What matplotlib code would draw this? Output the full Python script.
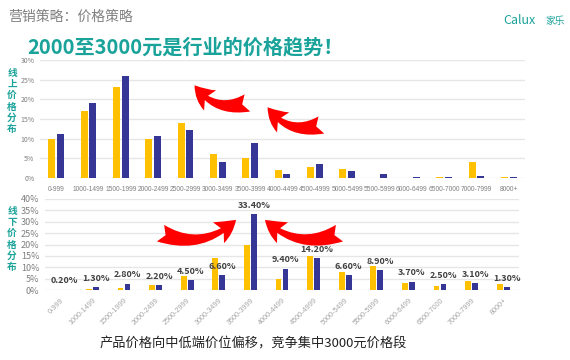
import numpy as np
import matplotlib
matplotlib.use("Agg")
import matplotlib.pyplot as plt
from matplotlib.patches import FancyArrowPatch

plt.rcParams['font.family'] = ['Noto Sans CJK SC', 'DejaVu Sans']

# price bands
bands = ['0-999', '1000-1499', '1500-1999', '2000-2499', '2500-2999', '3000-3499',
         '3500-3999', '4000-4499', '4500-4999', '5000-5499', '5500-5999', '6000-6499',
         '6500-7000', '7000-7999', '8000+']

# online share (%)
online_a = [10.0, 17.1, 23.1, 9.9, 14.0, 6.1, 5.0, 2.0, 2.7, 2.3, 0.0, 0.0, 0.2, 4.1, 0.2]
online_b = [11.2, 19.1, 26.0, 10.7, 12.1, 4.1, 8.8, 1.0, 3.6, 1.9, 0.9, 0.25, 0.3, 0.4, 0.3]

# offline share (%)
offline_a = [0.0, 0.5, 1.0, 2.1, 6.2, 14.1, 20.0, 4.9, 15.1, 7.8, 10.7, 2.9, 1.8, 4.0, 2.8]
offline_b = [0.2, 1.3, 2.8, 2.2, 4.5, 6.6, 33.4, 9.4, 14.2, 6.6, 8.9, 3.7, 2.5, 3.1, 1.3]

YELLOW = '#FFC000'
BLUE = '#363696'
TEAL = '#1AA39A'
GRID = '#e6e6e6'
TICK = '#7f7f7f'

W, H = 570, 360
fig = plt.figure(figsize=(W / 100, H / 100), dpi=100)


def fx(px):
    return px / W


def fy(py):
    return 1 - py / H


x = np.arange(len(bands))

# ---- online chart
ax1 = fig.add_axes([fx(40), fy(178), fx(485), 118 / H])
ax1.bar(x - 0.135, online_a, width=0.22, color=YELLOW)
ax1.bar(x + 0.135, online_b, width=0.22, color=BLUE)
ax1.set_xlim(-0.5, len(bands) - 0.5)
ax1.set_ylim(0, 30)
ax1.set_yticks(range(0, 31, 5))
ax1.set_yticklabels([f'{v}%' for v in range(0, 31, 5)])
ax1.set_xticks(x)
ax1.set_xticklabels(bands, family='Liberation Sans')
ax1.tick_params(axis='x', length=0, labelsize=4.8, colors=TICK, pad=6)
ax1.tick_params(axis='y', length=0, labelsize=5, colors=TICK, pad=4)
ax1.yaxis.grid(True, color=GRID, linewidth=1)
ax1.set_axisbelow(True)
for s in ax1.spines.values():
    s.set_visible(False)

# ---- offline chart
ax2 = fig.add_axes([fx(45), fy(290), fx(474), 91 / H])
ax2.bar(x - 0.11, offline_a, width=0.18, color=YELLOW)
ax2.bar(x + 0.11, offline_b, width=0.18, color=BLUE)
ax2.set_xlim(-0.5, len(bands) - 0.5)
ax2.set_ylim(0, 40)
ax2.set_yticks(range(0, 41, 5))
ax2.set_yticklabels([f'{v}%' for v in range(0, 41, 5)])
ax2.set_xticks(x)
ax2.set_xticklabels(bands, rotation=45, ha='right', rotation_mode='anchor', family='Liberation Sans')
ax2.tick_params(axis='both', length=0, colors=TICK)
ax2.tick_params(axis='y', labelsize=6.5, pad=4)
ax2.tick_params(axis='x', labelsize=5.2, colors='#a6a6a6', pad=5)
ax2.yaxis.grid(True, color=GRID, linewidth=1)
ax2.set_axisbelow(True)
for s in ax2.spines.values():
    s.set_visible(False)
for i, v in enumerate(offline_b):
    ax2.annotate(f'{v:.2f}%', (x[i] + 0.11, v), xytext=(0, 3), textcoords='offset points',
                 ha='center', va='bottom', fontsize=6.5, fontweight='bold', color='#404040')

# ---- side labels
for label, yc in [('线上价格分布', 101), ('线下价格分布', 239)]:
    fig.text(fx(12), fy(yc), '\n'.join(label), ha='center', va='center', fontsize=7,
             fontweight='bold', color=TEAL, linespacing=1.15)

# ---- titles
fig.text(fx(8), fy(17), '营销策略：价格策略', ha='left', va='center', fontsize=10, color='#808080')
fig.text(fx(27), fy(47), '2000至3000元是行业的价格趋势！', ha='left', va='center',
         fontsize=14.5, fontweight='bold', color=TEAL)
fig.text(fx(503), fy(21), 'Calux', ha='left', va='center', fontsize=9, color=TEAL)
fig.text(fx(545), fy(21), '家乐', ha='left', va='center', fontsize=7, color=TEAL)
fig.text(fx(253), fy(344), '产品价格向中低端价位偏移，竞争集中3000元价格段', ha='center', va='center',
         fontsize=9.5, color='#222222')

# ---- red arrows
arrows = [((250, 102), (193, 83), -0.4),
          ((324, 124), (266, 105), -0.4),
          ((158, 232), (238, 218), 0.35),
          ((342, 232), (263, 218), -0.35)]
for (x0, y0), (x1, y1), rad in arrows:
    arr = FancyArrowPatch((fx(x0), fy(y0)), (fx(x1), fy(y1)), transform=fig.transFigure,
                          connectionstyle=f'arc3,rad={rad}',
                          arrowstyle='fancy,head_length=1.2,head_width=1.3,tail_width=1.0',
                          mutation_scale=13, color='#ff0000', lw=0)
    fig.patches.append(arr)

fig.savefig('out.png', dpi=100, facecolor='white')
